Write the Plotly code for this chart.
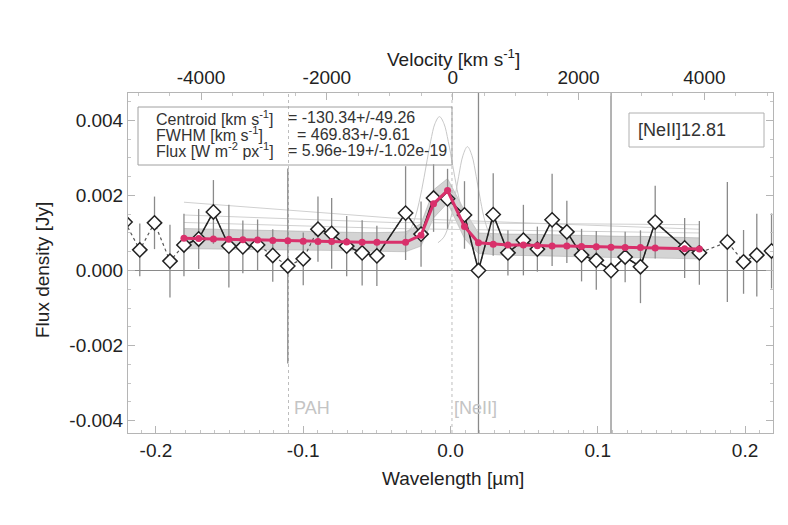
import plotly.graph_objects as go

# ---------------- data ----------------
obs_x = [-0.221, -0.211, -0.201, -0.1905, -0.181, -0.171, -0.161, -0.1505, -0.141, -0.131,
         -0.1207, -0.1105, -0.100, -0.090, -0.0807, -0.0705, -0.060, -0.050, -0.0305, -0.020,
         -0.0115, -0.002, 0.0095, 0.019, 0.029, 0.039, 0.0495, 0.059, 0.069, 0.079,
         0.089, 0.099, 0.109, 0.1186, 0.129, 0.139, 0.159, 0.169, 0.188, 0.199, 0.208, 0.218]
obs_y = [0.00129, 0.00055, 0.00127, 0.00025, 0.00068, 0.00084, 0.00156, 0.00065, 0.00063, 0.00068,
         0.00040, 0.00012, 0.00031, 0.00110, 0.00099, 0.00065, 0.00047, 0.00039, 0.00153, 0.00097,
         0.00193, 0.00191, 0.00148, 0.00000, 0.00149, 0.00047, 0.00081, 0.00057, 0.00135, 0.00103,
         0.00041, 0.00027, 0.00000, 0.00036, 0.00010, 0.00129, 0.00060, 0.00047, 0.00076, 0.00023,
         0.00041, 0.00052]
obs_err = [0.0008, 0.0007, 0.0007, 0.00097, 0.00083, 0.0008, 0.00085, 0.0011, 0.0007, 0.00068,
           0.0007, 0.0026, 0.0007, 0.00087, 0.00094, 0.0008, 0.00087, 0.0008, 0.00125, 0.00087,
           0.0009, 0.0008, 0.0009, 0.0100, 0.0011, 0.0006, 0.00094, 0.0006, 0.00123, 0.00083,
           0.0007, 0.00078, 0.0100, 0.00067, 0.00097, 0.00097, 0.0008, 0.00085, 0.0016, 0.00085,
           0.0011, 0.0010]
# fit window: obs indices 4..37 ; indices 10,11,12 excluded (PAH)
fit_first, fit_last = 4, 37
excluded = [10, 11, 12]

model_y = [0.00086, 0.00085, 0.00084, 0.00083, 0.00082, 0.00081, 0.00080, 0.00079, 0.00078, 0.00077,
           0.00077, 0.00076, 0.00075, 0.00075, 0.00075, 0.00094, 0.00178, 0.00213, 0.00117, 0.00074,
           0.00070, 0.00068, 0.00068, 0.00066, 0.00065, 0.00065, 0.00064, 0.00063, 0.00062, 0.00061,
           0.00061, 0.00060, 0.00058, 0.00057]
band_hi = [0.00112, 0.00111, 0.00110, 0.00109, 0.00108, 0.00107, 0.00106, 0.00105, 0.00104, 0.00103,
           0.00103, 0.00102, 0.00101, 0.00101, 0.00103, 0.00125, 0.00215, 0.00245, 0.00160, 0.00100,
           0.00098, 0.00097, 0.00097, 0.00096, 0.00095, 0.00095, 0.00094, 0.00093, 0.00092, 0.00091,
           0.00091, 0.00090, 0.00088, 0.00087]
band_lo = [0.00058, 0.00058, 0.00057, 0.00057, 0.00056, 0.00056, 0.00055, 0.00055, 0.00054, 0.00054,
           0.00053, 0.00053, 0.00052, 0.00052, 0.00050, 0.00065, 0.00140, 0.00180, 0.00085, 0.00045,
           0.00042, 0.00040, 0.00040, 0.00039, 0.00038, 0.00038, 0.00037, 0.00036, 0.00035, 0.00034,
           0.00034, 0.00033, 0.00032, 0.00031]

# a few individual Monte-Carlo realisations (thin grey)
mc_line_x = [-0.181, -0.040, 0.169]
mc_line1_y = [0.00182, 0.00140, 0.00110]
mc_line2_y = [0.00148, 0.00128, 0.00122]
mc_line3_y = [0.00128, 0.00112, 0.00100]
mc_g1_x = [-0.0325, -0.0275, -0.0235, -0.0195, -0.0165, -0.0135, -0.0105, -0.0075,
           -0.0045, -0.0015, 0.0015, 0.0045, 0.0085, 0.0125, 0.0175]
mc_g1_y = [0.00087, 0.00108, 0.00148, 0.00216, 0.00280, 0.00344, 0.00392, 0.00410,
           0.00392, 0.00344, 0.00280, 0.00216, 0.00148, 0.00108, 0.00087]
mc_g2_x = [-0.0085, -0.0045, -0.0005, 0.0025, 0.0055, 0.0085, 0.0115, 0.0145,
           0.0175, 0.0205, 0.0235, 0.0275, 0.0315]
mc_g2_y = [0.00074, 0.00089, 0.00130, 0.00184, 0.00250, 0.00307, 0.00330, 0.00307,
           0.00250, 0.00184, 0.00130, 0.00089, 0.00074]

x_ticks = [-0.2, -0.1, 0.0, 0.1, 0.2]
x_ticktext = ["-0.2", "-0.1", "0.0", "0.1", "0.2"]
y_ticks = [-0.004, -0.002, 0.0, 0.002, 0.004]
y_ticktext = ["-0.004", "-0.002", "0.000", "0.002", "0.004"]
v_ticks = [-4000, -2000, 0, 2000, 4000]
v_ticktext = ["-4000", "-2000", "0", "2000", "4000"]
pah_x = -0.110
neii_x = 0.001

info_labels = ["Centroid [km s<sup>-1</sup>]", "FWHM [km s<sup>-1</sup>]", "Flux [W m<sup>-2</sup> px<sup>-1</sup>]"]
info_values = ["= -130.34+/-49.26", "= 469.83+/-9.61", "= 5.96e-19+/-1.02e-19"]

# ---------------- layout constants ----------------
W, H = 788, 525
L, R, T, B = 128, 15, 93, 92
x_range = [-0.219, 0.219]
y_range = [-0.00433, 0.00473]
lam0 = 12.81
c_kms = 299792.458
v_zero_off = 0.0015
v_range = [(v - v_zero_off) / lam0 * c_kms for v in x_range]

def px(xp):
    return (xp - L) / (W - L - R)

def py(yp):
    return (H - B - yp) / (H - T - B)

FONT = "Liberation Sans, Arial, Helvetica, sans-serif"

fit_x = obs_x[fit_first:fit_last + 1]
solid_y = [None if (i in excluded) else obs_y[i] for i in range(fit_first, fit_last + 1)]

fig = go.Figure()

# grey MC band
fig.add_trace(go.Scatter(x=fit_x, y=band_lo, mode="lines", line=dict(color="rgba(150,150,150,0.5)", width=0.8),
                         showlegend=False, hoverinfo="skip"))
fig.add_trace(go.Scatter(x=fit_x, y=band_hi, mode="lines", line=dict(color="rgba(150,150,150,0.5)", width=0.8),
                         fill="tonexty", fillcolor="rgba(160,160,160,0.45)", showlegend=False, hoverinfo="skip"))
for yy in (mc_line1_y, mc_line2_y, mc_line3_y):
    fig.add_trace(go.Scatter(x=mc_line_x, y=yy, mode="lines", line=dict(color="#d0d0d0", width=1),
                             showlegend=False, hoverinfo="skip"))
fig.add_trace(go.Scatter(x=mc_g1_x, y=mc_g1_y, mode="lines", line=dict(color="#c8c8c8", width=1, shape="spline"),
                         showlegend=False, hoverinfo="skip"))
fig.add_trace(go.Scatter(x=mc_g2_x, y=mc_g2_y, mode="lines", line=dict(color="#c8c8c8", width=1, shape="spline"),
                         showlegend=False, hoverinfo="skip"))

# error bars
fig.add_trace(go.Scatter(x=obs_x, y=obs_y, mode="markers", marker=dict(size=1, color="rgba(0,0,0,0)"),
                         error_y=dict(type="data", array=obs_err, visible=True, color="#8a8a8a",
                                      thickness=1.3, width=0),
                         showlegend=False, hoverinfo="skip"))
# dotted connection of all points
fig.add_trace(go.Scatter(x=obs_x, y=obs_y, mode="lines", line=dict(color="#555", width=1.2, dash="dot"),
                         showlegend=False, hoverinfo="skip"))
# solid line through fitted points
fig.add_trace(go.Scatter(x=fit_x, y=solid_y, mode="lines", line=dict(color="#222", width=1.5),
                         connectgaps=False, showlegend=False, hoverinfo="skip"))
# diamonds
fig.add_trace(go.Scatter(x=obs_x, y=obs_y, mode="markers",
                         marker=dict(symbol="diamond", size=11, color="white", line=dict(color="#222", width=1.5)),
                         showlegend=False, hoverinfo="skip"))
# model
fig.add_trace(go.Scatter(x=fit_x, y=model_y, mode="lines+markers",
                         line=dict(color="#d9306b", width=3),
                         marker=dict(size=7, color="#d9306b"),
                         showlegend=False, hoverinfo="skip"))
# velocity axis carrier
fig.add_trace(go.Scatter(x=v_range, y=[None, None], xaxis="x2", mode="lines", showlegend=False, hoverinfo="skip"))

shapes = []
# zero line
shapes.append(dict(type="line", xref="paper", x0=0, x1=1, yref="y", y0=0, y1=0,
                   line=dict(color="#8a8a8a", width=1), layer="below"))
# PAH and NeII dotted marker lines
for xv in (pah_x, neii_x):
    shapes.append(dict(type="line", xref="x", x0=xv, x1=xv, yref="paper", y0=0, y1=1,
                       line=dict(color="#bdbdbd", width=1, dash="dot"), layer="below"))
# info box (transparent, as in the reference)
shapes.append(dict(type="rect", xref="paper", yref="paper", x0=px(138), x1=px(452), y0=py(165), y1=py(107),
                   line=dict(color="#a0a0a0", width=1), fillcolor="rgba(0,0,0,0)", layer="above"))
# line label box
shapes.append(dict(type="rect", xref="paper", yref="paper", x0=px(629), x1=px(764), y0=py(147), y1=py(113),
                   line=dict(color="#b0b0b0", width=1), fillcolor="white", layer="above"))

annotations = []
line_y = [118, 134, 150]
val_x = [286, 295, 286]
for i in range(3):
    annotations.append(dict(text=info_labels[i], xref="paper", yref="paper", x=px(154), y=py(line_y[i]),
                            xanchor="left", yanchor="middle", showarrow=False,
                            font=dict(family=FONT, size=16, color="#333")))
    annotations.append(dict(text=info_values[i], xref="paper", yref="paper", x=px(val_x[i]), y=py(line_y[i]),
                            xanchor="left", yanchor="middle", showarrow=False,
                            font=dict(family=FONT, size=16, color="#333")))
annotations.append(dict(text="[NeII]12.81", xref="paper", yref="paper", x=px(636), y=py(130),
                        xanchor="left", yanchor="middle", showarrow=False,
                        font=dict(family=FONT, size=18, color="#333")))
annotations.append(dict(text="PAH", xref="paper", yref="paper", x=px(292), y=py(408),
                        xanchor="left", yanchor="middle", showarrow=False,
                        font=dict(family=FONT, size=18, color="#c4c4c4")))
annotations.append(dict(text="[NeII]", xref="paper", yref="paper", x=px(452), y=py(408),
                        xanchor="left", yanchor="middle", showarrow=False,
                        font=dict(family=FONT, size=18, color="#c4c4c4")))
# axis titles
annotations.append(dict(text="Wavelength [µm]", xref="paper", yref="paper", x=px(453), y=py(478),
                        xanchor="center", yanchor="middle", showarrow=False,
                        font=dict(family=FONT, size=19, color="#222")))
annotations.append(dict(text="Velocity [km s<sup>-1</sup>]", xref="paper", yref="paper", x=px(453), y=py(58),
                        xanchor="center", yanchor="middle", showarrow=False,
                        font=dict(family=FONT, size=19, color="#222")))
annotations.append(dict(text="Flux density [Jy]", xref="paper", yref="paper", x=px(42), y=py(270),
                        xanchor="center", yanchor="middle", showarrow=False, textangle=-90,
                        font=dict(family=FONT, size=19, color="#222")))

axis_common = dict(showgrid=False, zeroline=False, showline=True, linecolor="#b5b5b5", linewidth=1,
                   ticks="inside", tickcolor="#b5b5b5", ticklen=7,
                   tickfont=dict(family=FONT, size=19, color="#222"))

fig.update_layout(
    width=W, height=H,
    margin=dict(l=L, r=R, t=T, b=B),
    paper_bgcolor="white", plot_bgcolor="white",
    shapes=shapes, annotations=annotations,
    xaxis=dict(range=x_range, tickvals=x_ticks, ticktext=x_ticktext, mirror=False,
               minor=dict(ticks="inside", ticklen=3, tickcolor="#c5c5c5", dtick=0.01, tick0=0, showgrid=False),
               **axis_common),
    xaxis2=dict(range=v_range, overlaying="x", side="top", tickvals=v_ticks, ticktext=v_ticktext,
                minor=dict(ticks="inside", ticklen=3, tickcolor="#c5c5c5", dtick=500, tick0=0, showgrid=False),
                **axis_common),
    yaxis=dict(range=y_range, tickvals=y_ticks, ticktext=y_ticktext, mirror="ticks",
               minor=dict(ticks="inside", ticklen=3, tickcolor="#c5c5c5", dtick=0.0005, tick0=0, showgrid=False),
               **axis_common),
)

fig.write_html("out.html")
